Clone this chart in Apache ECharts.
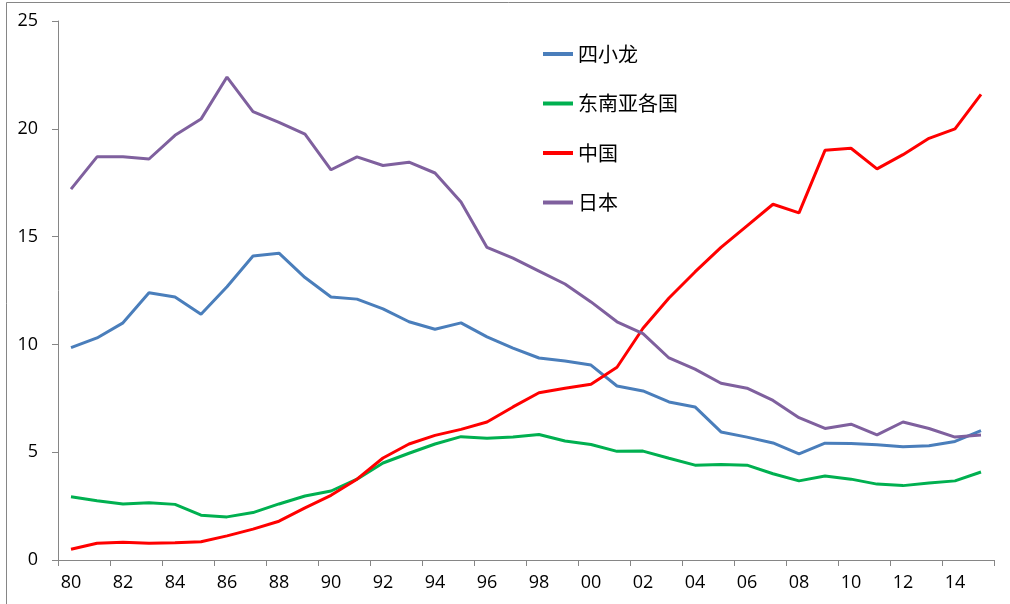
<!DOCTYPE html>
<html><head><meta charset="utf-8">
<script src="https://cdn.jsdelivr.net/npm/echarts@6/dist/echarts.min.js"></script>
<style>html,body{margin:0;padding:0;background:#fff}#c{width:1010px;height:604px}</style>
</head><body><div id="c"></div>
<script>
const years = ['80','81','82','83','84','85','86','87','88','89','90','91','92','93','94','95','96','97','98','99','00','01','02','03','04','05','06','07','08','09','10','11','12','13','14','15'];
const fourDragons = [9.85,10.3,11.0,12.4,12.2,11.4,12.67,14.1,14.23,13.1,12.2,12.1,11.65,11.05,10.7,11.0,10.35,9.83,9.37,9.23,9.04,8.07,7.84,7.33,7.1,5.94,5.7,5.43,4.92,5.42,5.4,5.35,5.25,5.3,5.5,6.0];
const seAsia = [2.93,2.75,2.6,2.65,2.58,2.08,2.0,2.2,2.6,2.97,3.2,3.75,4.5,4.95,5.38,5.72,5.65,5.7,5.82,5.52,5.36,5.04,5.05,4.72,4.4,4.43,4.4,4.0,3.67,3.9,3.75,3.52,3.45,3.57,3.67,4.08];
const china = [0.5,0.78,0.82,0.78,0.8,0.85,1.12,1.43,1.8,2.42,3.0,3.75,4.73,5.38,5.78,6.06,6.4,7.1,7.76,7.97,8.15,8.94,10.75,12.15,13.36,14.5,15.5,16.5,16.1,19.0,19.1,18.14,18.8,19.56,20.0,21.6];
const japan = [17.2,18.7,18.7,18.6,19.7,20.45,22.4,20.8,20.3,19.75,18.1,18.7,18.3,18.45,17.95,16.6,14.5,14.0,13.4,12.8,11.97,11.05,10.5,9.37,8.85,8.2,7.97,7.4,6.6,6.1,6.3,5.8,6.4,6.1,5.7,5.8];
const names = ['四小龙','东南亚各国','中国','日本'];
const colors = ['#4a7ebb','#00b050','#ff0000','#7f609e'];
const yTicks = {min:0, max:25, interval:5};

const chart = echarts.init(document.getElementById('c'));
const axisColor = '#868686';
const labelFont = {color:'#000', fontSize:18, fontFamily:'Open Sans'};
chart.setOption({
  animation:false,
  graphic:[{type:'rect', shape:{x:6.5,y:2.5,width:1010,height:610}, style:{fill:'none', stroke:axisColor, lineWidth:1}}],
  grid:{left:58, right:16, top:21, bottom:44},
  legend:{
    orient:'vertical', left:538, top:39, itemGap:29.5,
    itemWidth:30, itemHeight:4, icon:'rect',
    textStyle:{fontSize:20, fontFamily:'Noto Sans CJK SC', color:'#000'},
    data:names
  },
  xAxis:{
    type:'category', data:years, boundaryGap:true,
    axisLine:{lineStyle:{color:axisColor, width:1}},
    axisTick:{show:true, interval:1, length:6, lineStyle:{color:axisColor, width:1}},
    axisLabel:Object.assign({interval:1, margin:14}, labelFont)
  },
  yAxis:{
    type:'value', min:yTicks.min, max:yTicks.max, interval:yTicks.interval,
    splitLine:{show:false},
    axisLine:{show:true, lineStyle:{color:axisColor, width:1}},
    axisTick:{show:true, length:6, lineStyle:{color:axisColor}},
    axisLabel:Object.assign({margin:20}, labelFont)
  },
  series:[fourDragons, seAsia, china, japan].map((d,i)=>({
    name:names[i], type:'line', data:d, symbol:'none',
    lineStyle:{color:colors[i], width:3}, itemStyle:{color:colors[i]}
  }))
});
</script></body></html>
